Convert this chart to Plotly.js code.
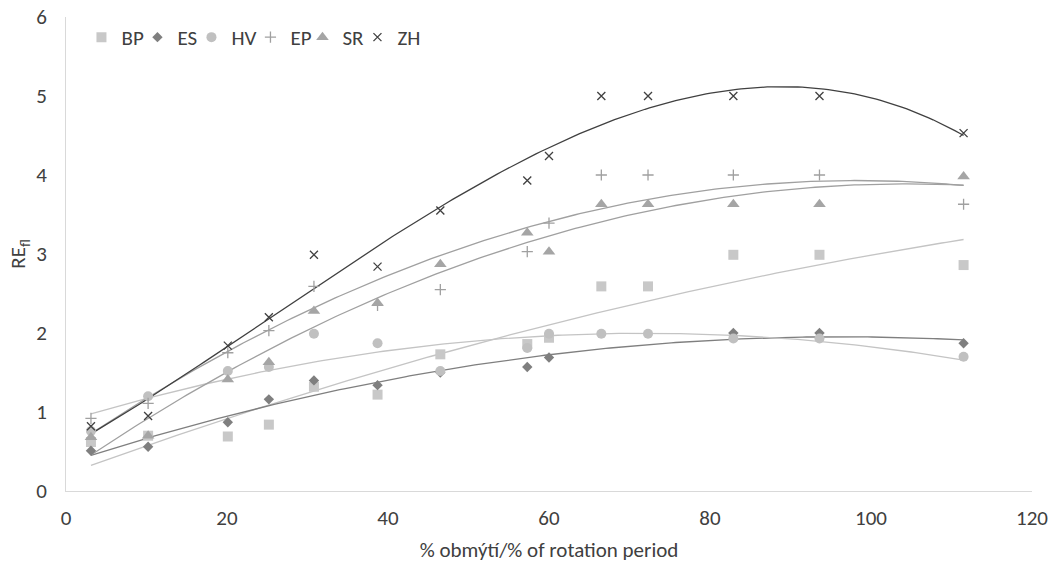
<!DOCTYPE html>
<html><head><meta charset="utf-8">
<script src="https://cdn.plot.ly/plotly-3.0.1.min.js"></script>
<style>html,body{margin:0;padding:0;background:#fff}</style>
</head><body><div id="chart" style="width:1054px;height:570px"></div>
<script>
const xVals = [3.1, 10.2, 20.1, 25.2, 30.8, 38.7, 46.5, 57.3, 60.0, 66.5, 72.3, 82.9, 93.6, 111.5];
const BP = [0.62, 0.70, 0.69, 0.84, 1.32, 1.22, 1.73, 1.86, 1.94, 2.59, 2.59, 2.99, 2.99, 2.86];
const ES = [0.51, 0.56, 0.87, 1.16, 1.40, 1.34, 1.50, 1.57, 1.69, null, null, 2.00, 2.00, 1.87];
const HV = [0.76, 1.20, 1.52, 1.57, 1.99, 1.87, 1.52, 1.81, 1.99, 1.99, 1.99, 1.93, 1.93, 1.70];
const EP = [0.92, 1.11, 1.75, 2.03, 2.59, 2.35, 2.55, 3.03, 3.39, 4.00, 4.00, 4.00, 4.00, 3.63];
const SR = [0.68, 0.70, 1.41, 1.63, 2.28, 2.38, 2.87, 3.27, 3.03, 3.63, 3.63, 3.63, 3.63, 3.98];
const ZH = [0.82, 0.95, 1.84, 2.20, 2.99, 2.84, 3.55, 3.93, 4.24, 5.00, 5.00, 5.00, 5.00, 4.53];
const seriesNames = ['BP', 'ES', 'HV', 'EP', 'SR', 'ZH'];
const xTicks = [0, 20, 40, 60, 80, 100, 120];
const yTicks = [0, 1, 2, 3, 4, 5, 6];

const seriesData = [BP, ES, HV, EP, SR, ZH];
const styles = [
  {symbol: 'square', size: 10, color: '#c8c8c8', trend: '#c4c4c4', order: 2, lw: 11},
  {symbol: 'diamond', size: 8, color: '#7f7f7f', trend: '#7f7f7f', order: 2, lw: 9},
  {symbol: 'circle', size: 10, color: '#c0c0c0', trend: '#c4c4c4', order: 2, lw: 14},
  {symbol: 'cross-thin', size: 8, color: '#a0a0a0', trend: '#a0a0a0', order: 2, thin: true, lw: 7},
  {symbol: 'triangle-up', size: 11, color: '#a5a5a5', trend: '#a0a0a0', order: 2, lw: 10},
  {symbol: 'x-thin', size: 8, color: '#404040', trend: '#404040', order: 3, thin: true, lw: 30}
];

function polyfit(xs, ys, order) {
  const px = [], py = [];
  xs.forEach((x, i) => { if (ys[i] !== null) { px.push(x); py.push(ys[i]); } });
  const n = order + 1;
  const A = Array.from({length: n}, () => new Array(n + 1).fill(0));
  for (let r = 0; r < n; r++) {
    for (let c = 0; c < n; c++) A[r][c] = px.reduce((s, x) => s + Math.pow(x, r + c), 0);
    A[r][n] = px.reduce((s, x, i) => s + py[i] * Math.pow(x, r), 0);
  }
  for (let i = 0; i < n; i++) {
    let m = i;
    for (let k = i + 1; k < n; k++) if (Math.abs(A[k][i]) > Math.abs(A[m][i])) m = k;
    [A[i], A[m]] = [A[m], A[i]];
    for (let k = i + 1; k < n; k++) {
      const f = A[k][i] / A[i][i];
      for (let j = i; j <= n; j++) A[k][j] -= f * A[i][j];
    }
  }
  const coef = new Array(n).fill(0);
  for (let i = n - 1; i >= 0; i--) {
    let s = A[i][n];
    for (let j = i + 1; j < n; j++) s -= A[i][j] * coef[j];
    coef[i] = s / A[i][i];
  }
  return {coef, min: Math.min(...px), max: Math.max(...px)};
}

const traces = [];
seriesData.forEach((ys, k) => {
  const st = styles[k];
  const fit = polyfit(xVals, ys, st.order);
  const tx = [], ty = [];
  for (let i = 0; i <= 200; i++) {
    const x = fit.min + (fit.max - fit.min) * i / 200;
    tx.push(x);
    ty.push(fit.coef.reduce((s, c, p) => s + c * Math.pow(x, p), 0));
  }
  traces.push({x: tx, y: ty, mode: 'lines', line: {color: st.trend, width: 1.3}, showlegend: false, hoverinfo: 'skip'});
});
seriesData.forEach((ys, k) => {
  const st = styles[k];
  const marker = {symbol: st.symbol, size: st.size, color: st.color};
  if (st.thin) marker.line = {color: st.color, width: 1.3};
  traces.push({x: xVals, y: ys, name: seriesNames[k], mode: 'markers', marker: marker, type: 'scatter', legendwidth: st.lw});
});

const fontFam = 'Carlito, Lato, sans-serif';
const layout = {
  width: 1054, height: 570,
  margin: {l: 66, r: 22, t: 17, b: 79},
  paper_bgcolor: '#fff', plot_bgcolor: '#fff',
  font: {family: fontFam, size: 21, color: '#404040'},
  xaxis: {
    range: [0, 120], tickvals: xTicks, ticktext: xTicks.map(String),
    showgrid: false, zeroline: false, showline: true, linecolor: '#d9d9d9', linewidth: 1,
    ticks: '', ticklabelstandoff: 8,
    title: {text: '% obmýtí/% of rotation period', font: {size: 21, color: '#404040'}, standoff: 12}
  },
  yaxis: {
    range: [0, 6], tickvals: yTicks, ticktext: yTicks.map(String),
    showgrid: false, zeroline: false, showline: true, linecolor: '#d9d9d9', linewidth: 1,
    ticks: '', ticklabelstandoff: 14,
    title: {text: 'RE<sub>fl</sub>', font: {size: 21, color: '#404040'}, standoff: 4}
  },
  legend: {orientation: 'h', x: 0.016, y: 1.0, xanchor: 'left', yanchor: 'top',
    font: {size: 21, color: '#404040'}, bgcolor: 'rgba(0,0,0,0)', itemwidth: 30, tracegroupgap: 0},
  showlegend: true
};
Plotly.newPlot('chart', traces, layout, {displayModeBar: false, staticPlot: true});
</script></body></html>
